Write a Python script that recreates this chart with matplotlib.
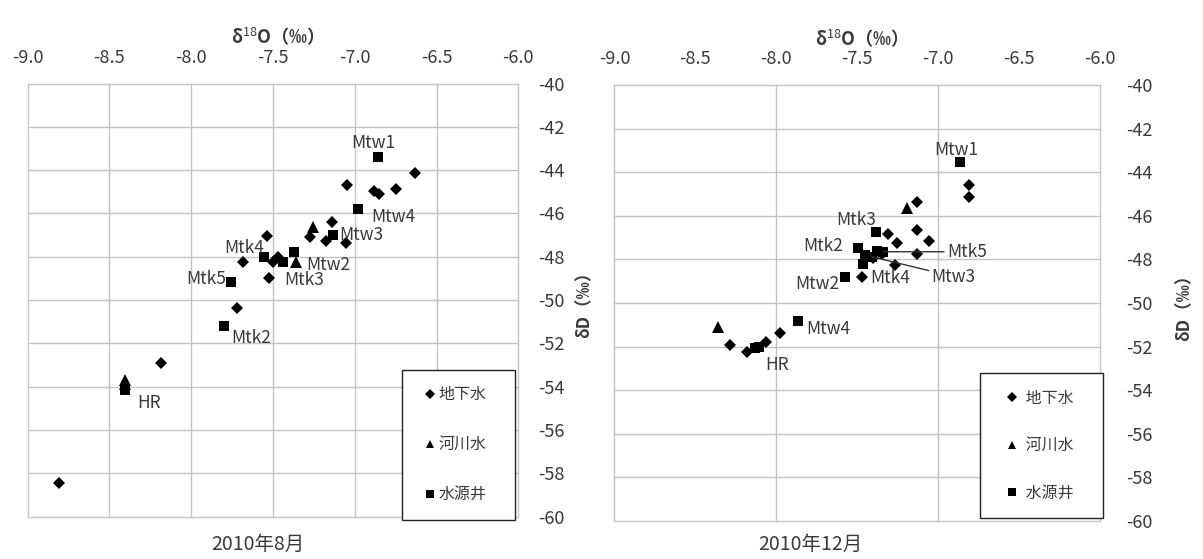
import numpy as np
import matplotlib.pyplot as plt

plt.rcParams['font.family'] = ['Noto Sans CJK JP', 'DejaVu Sans']
plt.rcParams['mathtext.fontset'] = 'custom'
plt.rcParams['mathtext.rm'] = 'Noto Sans CJK JP'
plt.rcParams['mathtext.bf'] = 'Noto Sans CJK JP:bold'
plt.rcParams['axes.unicode_minus'] = False

# 2010年8月
aug_gw_x = [-6.632, -7.045, -6.882, -6.854, -6.748, -7.142, -7.275, -7.173, -7.051,
            -7.536, -7.682, -7.499, -7.469, -7.525, -7.717, -8.185, -8.806]
aug_gw_y = [-44.15, -44.69, -44.95, -45.10, -44.87, -46.38, -47.10, -47.26, -47.38,
            -47.03, -48.23, -48.23, -48.03, -48.97, -50.38, -52.92, -58.43]
aug_riv_x = [-7.255, -7.360, -8.402, -8.402]
aug_riv_y = [-46.64, -48.23, -53.70, -53.88]
aug_well_name = ['Mtw1', 'Mtw4', 'Mtw3', 'Mtw2', 'Mtk3', 'Mtk4', 'Mtk5', 'Mtk2', 'HR']
aug_well_x = [-6.858, -6.982, -7.133, -7.371, -7.438, -7.555, -7.757, -7.798, -8.402]
aug_well_y = [-43.39, -45.79, -47.00, -47.80, -48.23, -48.00, -49.18, -51.18, -54.15]

# 2010年12月
dec_gw_x = [-6.807, -6.807, -7.132, -7.308, -7.129, -7.056, -7.252, -7.129, -7.266,
            -7.468, -7.400, -7.350, -8.286, -8.179, -8.066, -7.977]
dec_gw_y = [-44.59, -45.12, -45.38, -46.85, -46.65, -47.16, -47.26, -47.77, -48.26,
            -48.83, -47.95, -47.75, -51.93, -52.23, -51.80, -51.39]
dec_riv_x = [-7.194, -8.358]
dec_riv_y = [-45.66, -51.11]
dec_well_name = ['Mtw1', 'Mtk3', 'Mtk2', '', 'Mtk5', '', 'Mtw3', 'Mtk4', 'Mtw2', 'Mtw4', 'HR', '']
dec_well_x = [-6.864, -7.386, -7.493, -7.380, -7.339, -7.452, -7.410, -7.462, -7.575, -7.864, -8.130, -8.110]
dec_well_y = [-43.55, -46.74, -47.49, -47.61, -47.65, -47.80, -47.88, -48.22, -48.79, -50.81, -52.08, -52.00]

aug_legend = ['地下水', '河川水', '水源井']
dec_legend = [' 地下水', ' 河川水', ' 水源井']
x_ticks = np.arange(-9.0, -5.99, 0.5)
y_ticks = np.arange(-60, -39, 2)

# label placement: name -> (dx, dy in points, ha, leader line)
aug_lab = {'Mtw1': (-3.6, 10, 'center', False), 'Mtw4': (10, -5.8, 'left', False),
           'Mtw3': (4.3, 0, 'left', False), 'Mtw2': (8.6, -9.4, 'left', False),
           'Mtk3': (0.7, -13, 'left', False), 'Mtk4': (0, 6.5, 'right', False),
           'Mtk5': (-3.6, 2.2, 'right', False), 'Mtk2': (5, -8.6, 'left', False),
           'HR': (8.6, -9.4, 'left', False)}
dec_lab = {'Mtw1': (-2.9, 8.6, 'center', False), 'Mtk3': (0, 8.6, 'right', False),
           'Mtk2': (-10.8, 1.4, 'right', False), 'Mtk5': (45.7, 0, 'left', True),
           'Mtw3': (43, -14.3, 'left', True), 'Mtk4': (4.8, -9.6, 'left', False),
           'Mtw2': (-4.3, -5, 'right', False), 'Mtw4': (5.8, -5.8, 'left', False),
           'HR': (7.2, -12.2, 'left', False)}

fig = plt.figure(figsize=(12.03, 5.59), dpi=100)
ax1 = fig.add_axes([0.0229, 0.076, 0.408, 0.7746])
ax2 = fig.add_axes([0.5108, 0.068, 0.4036, 0.780])

tc = '#3a3a3a'


def draw(ax, gx, gy, rx, ry, wn, wx, wy, labs, legnames, only_int_vgrid, caption, cap_x,
         ypad, ylpad, leg_box, leg_sp, leg_hl, leg_tp):
    ax.plot(gx, gy, 'D', color='black', ms=6.3, mew=0, label=legnames[0])
    ax.plot(rx, ry, '^', color='black', ms=8, mew=0, label=legnames[1])
    ax.plot(wx, wy, 's', color='black', ms=7.2, mew=0, label=legnames[2])
    for n, x, y in zip(wn, wx, wy):
        if n == '':
            continue
        dx, dy, ha, line = labs[n]
        ap = dict(arrowstyle='-', color='#333333', lw=1.0, shrinkA=0, shrinkB=0) if line else None
        ax.annotate(n, (x, y), xytext=(dx, dy), textcoords='offset points',
                    ha=ha, va='center', fontsize=12.5, color=tc, arrowprops=ap)
    ax.set_xlim(-9, -6)
    ax.set_ylim(-60, -40)
    ax.set_xticks(x_ticks)
    ax.set_xticklabels(['%.1f' % v for v in x_ticks])
    ax.set_yticks(y_ticks)
    ax.set_yticklabels(['%d' % v for v in y_ticks])
    ax.xaxis.tick_top()
    ax.yaxis.tick_right()
    ax.tick_params(length=0, labelsize=13, colors=tc)
    ax.tick_params(axis='x', pad=12)
    ax.tick_params(axis='y', pad=ypad)
    ax.grid(True, color='#c4c4c4', lw=1)
    for t, v in zip(ax.xaxis.get_major_ticks(), x_ticks):
        t.gridline.set_clip_on(False)
        if only_int_vgrid and abs(v - round(v)) > 1e-6:
            t.gridline.set_visible(False)
    for t in ax.yaxis.get_major_ticks():
        t.gridline.set_clip_on(False)
    for s in ax.spines.values():
        s.set_visible(False)
    ax.set_xlabel('δ$^{18}$O（‰）', fontsize=13, fontweight='bold', color=tc, labelpad=4)
    ax.xaxis.set_label_position('top')
    ax.set_ylabel('δD（‰）', fontsize=12.5, fontweight='bold', color=tc, labelpad=ylpad)
    ax.yaxis.set_label_position('right')
    # caption centred at the same height in both panels (figure coords)
    bb = ax.get_position()
    fig.text(bb.x0 + cap_x * bb.width, 0.026, caption, ha='center', va='center',
             fontsize=14, color=tc)
    leg = ax.legend(loc='lower left', bbox_to_anchor=leg_box, mode='expand', frameon=True,
                    fancybox=False, edgecolor='#222222', framealpha=1,
                    labelspacing=leg_sp, handlelength=leg_hl, handletextpad=leg_tp,
                    borderpad=1.05, borderaxespad=0, fontsize=11.5, markerscale=0.8)
    leg.get_frame().set_linewidth(1.0)
    for t in leg.get_texts():
        t.set_color(tc)


draw(ax1, aug_gw_x, aug_gw_y, aug_riv_x, aug_riv_y, aug_well_name, aug_well_x, aug_well_y,
     aug_lab, aug_legend, False, '2010年8月', 0.469, 14, 8,
     (0.762, -0.008, 0.2308, 0.0), 2.06, 1.5, -0.25)
draw(ax2, dec_gw_x, dec_gw_y, dec_riv_x, dec_riv_y, dec_well_name, dec_well_x, dec_well_y,
     dec_lab, dec_legend, True, '2010年12月', 0.404, 19, 16,
     (0.752, 0.006, 0.2533, 0.0), 1.9, 2.0, -0.375)

fig.savefig('out.png', dpi=100, facecolor='white')
